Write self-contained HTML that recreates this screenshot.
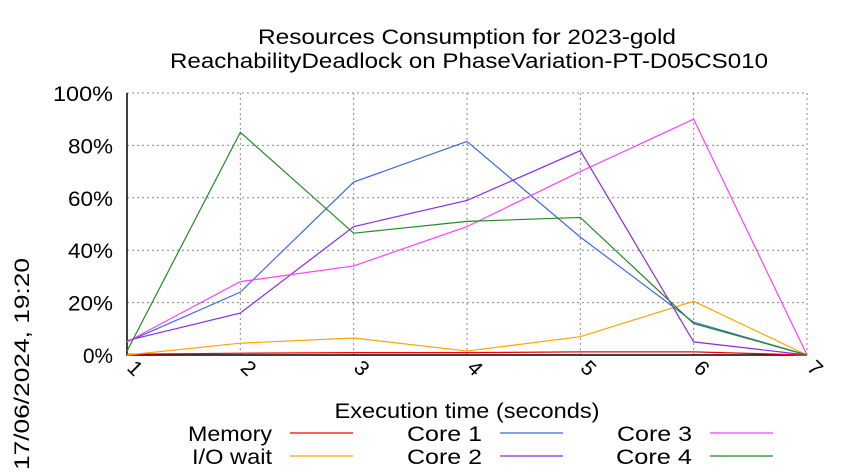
<!DOCTYPE html>
<html><head><meta charset="utf-8"><style>
html,body{margin:0;padding:0;background:#fff;}
svg{display:block;font-family:"Liberation Sans",sans-serif;}
</style></head><body>
<svg id="chart" width="850" height="475" viewBox="0 0 850 475" xmlns="http://www.w3.org/2000/svg">
<text x="467" y="44" font-size="21" text-anchor="middle" textLength="418" lengthAdjust="spacingAndGlyphs">Resources Consumption for 2023-gold</text>
<text x="469" y="68" font-size="21" text-anchor="middle" textLength="598" lengthAdjust="spacingAndGlyphs">ReachabilityDeadlock on PhaseVariation-PT-D05CS010</text>
<text transform="translate(29,364) rotate(-90)" font-size="21" text-anchor="middle" textLength="212" lengthAdjust="spacingAndGlyphs">17/06/2024, 19:20</text>
<text x="467" y="418" font-size="21" text-anchor="middle" textLength="265" lengthAdjust="spacingAndGlyphs">Execution time (seconds)</text>
<g id="grid"></g>
<g id="axes"></g>
<g id="series"></g>
<g id="legend"></g>
</svg>
<script>
const xCategories = [1,2,3,4,5,6,7];
const yTicks = [0,20,40,60,80,100];
const yTickLabels = ["0%","20%","40%","60%","80%","100%"];
const memory = [0.3,0.7,0.9,0.9,1.2,1.2,0];
const ioWait = [0,4.5,6.5,1.5,7,20.5,0];
const core1 = [5,24,66,81.5,45,12.5,0];
const core2 = [5.5,16,49,59,78,5,0];
const core3 = [5,28,34,49,70,90,0];
const core4 = [1.5,85,46.5,51,52.5,12,0];
const seriesNames = ["Memory","I/O wait","Core 1","Core 2","Core 3","Core 4"];

const NS="http://www.w3.org/2000/svg";
const L=127,R=807,T=93,B=355;
const xs=v=>L+(v-1)*(R-L)/6;
const ys=v=>B-v*(B-T)/100;
function mk(tag,parent,attrs){const e=document.createElementNS(NS,tag);for(const k in attrs)e.setAttribute(k,attrs[k]);parent.appendChild(e);return e;}
const grid=document.getElementById('grid'),axes=document.getElementById('axes'),ser=document.getElementById('series'),leg=document.getElementById('legend');
yTicks.forEach((t,i)=>{
  const g=mk('line',grid,{x1:L,x2:R,y1:ys(t),y2:ys(t),stroke:'#888','stroke-dasharray':'2,3','stroke-width':1});
  
  
  const lab=yTickLabels[i];
  const tx=mk('text',axes,{x:L-14,y:ys(t)+8,'font-size':21,'text-anchor':'end',textLength:lab.length*15,lengthAdjust:'spacingAndGlyphs'});
  tx.textContent=lab;
  
  
});
xCategories.forEach(c=>{
  const g=mk('line',grid,{x1:xs(c),x2:xs(c),y1:T,y2:B,stroke:'#888','stroke-dasharray':'2,3','stroke-width':1});
  
  
  const tx=mk('text',axes,{transform:`translate(${xs(c)-1},${B+14}) rotate(45)`,'font-size':21,'text-anchor':'start'});
  tx.textContent=c;
  
  
});
const frame=mk('path',axes,{d:`M${L},${T}V${B}H${R}`,fill:'none',stroke:'#000','stroke-width':1.5});


const data=[memory,ioWait,core1,core2,core3,core4];
const colors=['#ff0000','#ffa500','#4169e1','#8a2be2','#ff40ff','#228b22'];
data.forEach((arr,i)=>{
  const p=mk('polyline',ser,{points:arr.map((v,j)=>xs(xCategories[j])+','+ys(v)).join(' '),fill:'none',stroke:colors[i],'stroke-width':1.2});
  
  
});
const legX=[272,482,692],legY=[441,464];
const legW=[84,80,75,75,75,76];
seriesNames.forEach((n,i)=>{
  const col=Math.floor(i/2),row=i%2;
  const t=mk('text',leg,{x:legX[col],y:legY[row],'font-size':21,'text-anchor':'end',textLength:legW[i],lengthAdjust:'spacingAndGlyphs'});
  t.textContent=n;
  
  
  const l=mk('line',leg,{x1:legX[col]+18,x2:legX[col]+81,y1:legY[row]-8,y2:legY[row]-8,stroke:colors[i],'stroke-width':1.2});
  
  
});
</script>
</body></html>
